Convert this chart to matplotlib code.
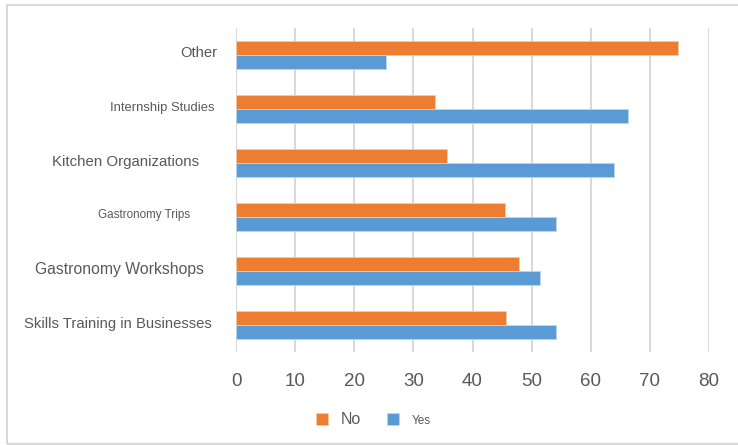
import numpy as np
import matplotlib
matplotlib.use("Agg")
import matplotlib.pyplot as plt
from matplotlib.patches import Rectangle
from matplotlib.transforms import blended_transform_factory, offset_copy

categories = ["Other", "Internship Studies", "Kitchen Organizations",
              "Gastronomy Trips", "Gastronomy Workshops",
              "Skills Training in Businesses"]
no_vals = [74.7, 33.7, 35.7, 45.5, 47.9, 45.6]
yes_vals = [25.3, 66.3, 64.0, 54.1, 51.5, 54.2]
xticks = [0, 10, 20, 30, 40, 50, 60, 70, 80]

plt.rcParams['font.family'] = ['Liberation Sans', 'DejaVu Sans']

fig = plt.figure(figsize=(7.38, 4.45), dpi=100)
# light grey frame round the chart
fig.patches.append(Rectangle((7 / 738, 1.5 / 445), 1.0, 438.5 / 445, transform=fig.transFigure,
                             fill=False, edgecolor='#d9d9d9', linewidth=1.5))
ax = fig.add_axes([236 / 738, 1 - 351.7 / 445, 473 / 738, 323.7 / 445])

y = np.arange(len(categories))
h = 0.26
ax.barh(y - h / 2, no_vals, height=h, color='#ED7D31', edgecolor='#f5c9a8', linewidth=0.6, label='No', zorder=3)
ax.barh(y + h / 2, yes_vals, height=h, color='#5B9BD5', edgecolor='#bcd6ef', linewidth=0.6, label='Yes', zorder=3)

ax.set_xlim(0, 80)
ax.set_ylim(len(categories) - 0.5, -0.5)
ax.set_xticks(xticks)
ax.set_yticks([])
ax.tick_params(axis='x', length=0, pad=15, labelsize=13.5, labelcolor='#595959')
ax.grid(axis='x', color='#d9d9d9', linewidth=1.5, zorder=0)
for s in ax.spines.values():
    s.set_visible(False)

# category labels: sizes and right edges differ in the original
label_sizes = [10.6, 9.4, 10.8, 8.4, 11.3, 10.7]
label_right = [217, 214, 199, 190, 204, 212]
label_dy = [1.5, 1, 1, 2, 1, 1]
trans = blended_transform_factory(fig.transFigure, ax.transData)
for i, name in enumerate(categories):
    tr = offset_copy(trans, fig=fig, x=0, y=label_dy[i], units='dots')
    ax.text(label_right[i] / 738, y[i], name, transform=tr, ha='right', va='center',
            fontsize=label_sizes[i], color='#595959')

leg = fig.legend(loc='center', bbox_to_anchor=(373.5 / 738, 1 - 420 / 445), ncol=2, frameon=False,
                 handlelength=0.75, handleheight=0.75, columnspacing=1.6, handletextpad=0.8,
                 fontsize=11.5)
for t in leg.get_texts():
    t.set_color('#595959')
leg.get_texts()[1].set_fontsize(8.5)

fig.savefig("out.png", dpi=100)
